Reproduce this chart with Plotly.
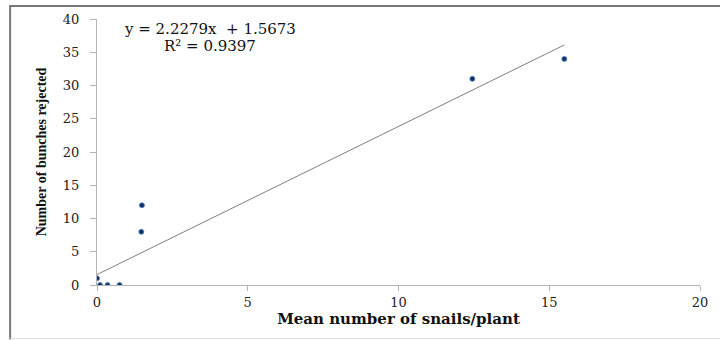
import plotly.graph_objects as go

# Data
snails = [0.0, 0.1, 0.35, 0.75, 1.47, 1.49, 12.45, 15.5]
bunches = [1, 0, 0, 0, 8, 12, 31, 34]

slope = 2.2279
intercept = 1.5673
trend_x = [0.0, 15.5]
trend_y = [slope * v + intercept for v in trend_x]

x_ticks = [0, 5, 10, 15, 20]
y_ticks = [0, 5, 10, 15, 20, 25, 30, 35, 40]

W, H = 720, 340
L, R, T, B = 97, 19, 17, 55
pw, ph = W - L - R, H - T - B

def px(xpix):
    return (xpix - L) / pw

def py(ypix):
    return (H - B - ypix) / ph

fig = go.Figure()
fig.add_trace(go.Scatter(x=trend_x, y=trend_y, mode="lines",
                         line=dict(color="#7f7f7f", width=1), hoverinfo="skip"))
fig.add_trace(go.Scatter(x=snails, y=bunches, mode="markers",
                         marker=dict(size=5, color="#10306a",
                                     line=dict(color="#4f81bd", width=0.8))))

serif = "DejaVu Serif"
fig.update_layout(
    width=W, height=H, showlegend=False,
    margin=dict(l=L, r=R, t=T, b=B),
    paper_bgcolor="white", plot_bgcolor="white",
    xaxis=dict(range=[0, 20], tickvals=x_ticks, showgrid=False, zeroline=False,
               showline=True, linecolor="#b4b4b4", linewidth=1.2,
               ticks="outside", ticklen=5, tickcolor="#b4b4b4",
               tickfont=dict(family=serif, size=13, color="#222"),
               title=dict(text="<b>Mean number of snails/plant</b>", standoff=0,
                          font=dict(family=serif, size=15, color="#111"))),
    yaxis=dict(range=[0, 40], tickvals=y_ticks, showgrid=False, zeroline=False,
               showline=True, linecolor="#b4b4b4", linewidth=1.2,
               ticks="outside", ticklen=6, tickcolor="#b4b4b4",
               ticklabelstandoff=8,
               tickfont=dict(family=serif, size=13, color="#222"),
               title=dict(text="<b>Number of bunches rejected</b>", standoff=12,
                          font=dict(family="Liberation Serif", size=14, color="#111"))),
)

fig.add_annotation(xref="paper", yref="paper", x=px(210), y=py(27),
                   text="y = 2.2279x  + 1.5673", showarrow=False,
                   font=dict(family=serif, size=15, color="#111"),
                   xanchor="center", yanchor="middle")
fig.add_annotation(xref="paper", yref="paper", x=px(210), y=py(44),
                   text="R² = 0.9397", showarrow=False,
                   font=dict(family=serif, size=15, color="#111"),
                   xanchor="center", yanchor="middle")

# outer frame (left and top darker, bottom light)
fig.add_shape(type="line", xref="paper", yref="paper",
              x0=px(10), x1=px(10), y0=py(4), y1=py(340),
              line=dict(color="#777", width=2))
fig.add_shape(type="line", xref="paper", yref="paper",
              x0=px(9), x1=px(722), y0=py(4), y1=py(4),
              line=dict(color="#777", width=2))
fig.add_shape(type="line", xref="paper", yref="paper",
              x0=px(10), x1=px(722), y0=py(339), y1=py(339),
              line=dict(color="#ddd", width=1))

fig.write_html("out.html")
